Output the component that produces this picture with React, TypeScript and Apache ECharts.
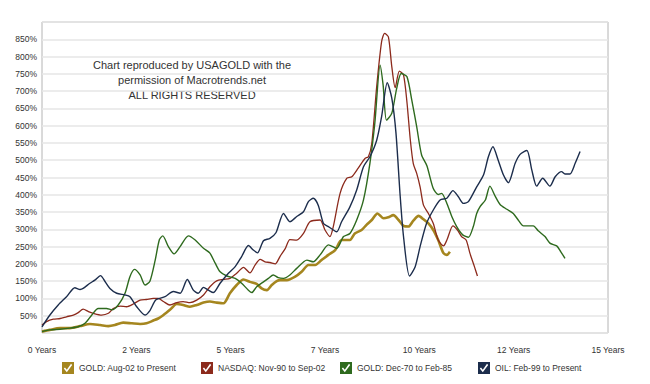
import React, { useEffect, useRef } from "react";
import * as echarts from "echarts";

// ---- Data (years since start, % gain) ----
const SERIES_NAMES = [
  "GOLD: Aug-02 to Present",
  "NASDAQ: Nov-90 to Sep-02",
  "GOLD: Dec-70 to Feb-85",
  "OIL: Feb-99 to Present",
];

const SERIES_COLORS = ["#a5861f", "#8c2a1c", "#2e6a1e", "#1c2d4c"];

const goldAug02: number[][] = [
  [0, 4], [0.21, 9], [0.48, 14], [0.74, 14], [1.01, 20], [1.27, 26], [1.54, 23], [1.76, 20],
  [1.93, 23], [2.15, 30], [2.38, 28], [2.6, 26], [2.77, 28], [2.95, 36], [3.08, 42], [3.22, 52],
  [3.39, 67], [3.57, 84], [3.74, 81], [3.92, 76], [4.1, 81], [4.28, 88], [4.45, 91], [4.63, 88],
  [4.81, 86], [4.98, 115], [5.16, 139], [5.34, 155], [5.51, 148], [5.69, 142], [5.82, 129],
  [5.96, 124], [6.09, 139], [6.22, 150], [6.31, 153], [6.49, 153], [6.71, 163], [6.88, 177],
  [7.06, 197], [7.24, 197], [7.41, 211], [7.59, 226], [7.77, 240], [7.94, 269], [8.16, 269],
  [8.29, 288], [8.47, 298], [8.6, 313], [8.74, 327], [8.89, 346], [9.05, 332], [9.18, 335],
  [9.31, 341], [9.45, 327], [9.58, 310], [9.71, 308], [9.84, 325], [9.98, 339], [10.11, 329],
  [10.24, 317], [10.37, 298], [10.5, 269], [10.64, 231], [10.73, 226], [10.81, 235],
];

const nasdaq9002: number[][] = [
  [0, 23], [0.12, 33], [0.3, 40], [0.48, 42], [0.65, 47], [0.83, 52], [0.96, 59], [1.09, 69],
  [1.23, 62], [1.36, 57], [1.58, 52], [1.76, 57], [1.89, 71], [2.07, 78], [2.24, 76], [2.42, 84],
  [2.6, 95], [2.77, 97], [2.95, 100], [3.08, 100], [3.22, 91], [3.39, 81], [3.57, 88], [3.74, 91],
  [3.92, 88], [4.1, 95], [4.28, 110], [4.45, 134], [4.63, 151], [4.81, 155], [4.98, 158],
  [5.16, 173], [5.34, 190], [5.51, 174], [5.65, 197], [5.78, 213], [5.91, 206], [6.04, 204],
  [6.18, 200], [6.31, 222], [6.45, 245], [6.57, 270], [6.75, 269], [6.93, 288], [7.1, 322],
  [7.37, 327], [7.5, 298], [7.63, 279], [7.72, 308], [7.9, 404], [8.08, 448], [8.21, 452],
  [8.38, 477], [8.56, 505], [8.65, 510], [8.74, 549], [8.87, 713], [9.0, 843], [9.08, 867],
  [9.18, 857], [9.27, 771], [9.36, 710], [9.47, 758], [9.58, 747], [9.67, 670], [9.76, 560],
  [9.84, 490], [9.93, 462], [10.02, 423], [10.11, 370], [10.24, 346], [10.37, 317], [10.5, 269],
  [10.64, 252], [10.73, 269], [10.89, 310], [11.01, 298], [11.12, 279], [11.24, 269],
  [11.34, 231], [11.46, 192], [11.54, 165],
];

const goldDec70: number[][] = [
  [0, 4], [0.21, 9], [0.48, 11], [0.74, 14], [0.96, 18], [1.14, 28], [1.32, 52], [1.49, 71],
  [1.71, 71], [1.85, 67], [2.02, 81], [2.2, 115], [2.33, 163], [2.45, 184], [2.6, 168],
  [2.73, 139], [2.86, 150], [3.0, 211], [3.11, 270], [3.2, 281], [3.35, 250], [3.5, 229],
  [3.66, 250], [3.88, 281], [4.06, 269], [4.28, 245], [4.45, 231], [4.59, 202], [4.72, 177],
  [4.9, 165], [5.12, 158], [5.29, 144], [5.47, 124], [5.56, 117], [5.69, 134], [5.87, 148],
  [6.0, 158], [6.13, 168], [6.26, 160], [6.4, 158], [6.57, 168], [6.75, 187], [7.02, 211],
  [7.19, 206], [7.37, 226], [7.59, 255], [7.81, 245], [7.99, 279], [8.16, 288], [8.34, 327],
  [8.52, 385], [8.69, 491], [8.82, 607], [8.96, 775], [9.04, 718], [9.13, 616], [9.27, 636],
  [9.4, 708], [9.52, 751], [9.67, 742], [9.8, 674], [9.93, 597], [10.06, 515], [10.2, 484],
  [10.37, 418], [10.5, 401], [10.59, 404], [10.73, 375], [10.86, 337], [10.99, 308],
  [11.15, 284], [11.3, 277], [11.43, 308], [11.52, 346], [11.61, 366], [11.75, 385],
  [11.87, 425], [12.01, 396], [12.14, 372], [12.32, 358], [12.49, 346], [12.62, 327],
  [12.76, 310], [13.02, 310], [13.15, 296], [13.33, 279], [13.46, 260], [13.64, 252],
  [13.75, 235], [13.86, 216],
];

const oilFeb99: number[][] = [
  [0, 18], [0.21, 52], [0.43, 81], [0.65, 105], [0.87, 131], [1.01, 126], [1.09, 129],
  [1.27, 144], [1.4, 153], [1.55, 166], [1.67, 149], [1.8, 129], [1.98, 115], [2.2, 110],
  [2.33, 105], [2.51, 76], [2.73, 52], [2.86, 65], [3.02, 96], [3.26, 105], [3.48, 120],
  [3.66, 115], [3.85, 155], [4.01, 124], [4.14, 115], [4.28, 132], [4.41, 124], [4.54, 117],
  [4.72, 144], [4.94, 173], [5.12, 192], [5.29, 221], [5.47, 253], [5.6, 240], [5.71, 232],
  [5.87, 267], [6.04, 274], [6.2, 290], [6.4, 346], [6.57, 322], [6.75, 337], [6.93, 351],
  [7.06, 380], [7.19, 390], [7.32, 370], [7.46, 317], [7.59, 308], [7.81, 293], [7.94, 322],
  [8.16, 365], [8.34, 414], [8.52, 481], [8.69, 510], [8.87, 558], [9.0, 626], [9.15, 724],
  [9.27, 680], [9.38, 580], [9.49, 400], [9.58, 280], [9.74, 165], [9.89, 192], [10.02, 250],
  [10.19, 317], [10.37, 356], [10.55, 385], [10.73, 390], [10.89, 412], [11.03, 395],
  [11.17, 375], [11.3, 380], [11.52, 423], [11.7, 457], [11.83, 510], [11.95, 539],
  [12.09, 500], [12.23, 457], [12.36, 435], [12.54, 491], [12.67, 517], [12.85, 528],
  [12.98, 472], [13.11, 425], [13.27, 448], [13.46, 425], [13.6, 452], [13.77, 467],
  [13.86, 460], [13.99, 460], [14.13, 491], [14.26, 525],
];

const SERIES_DATA = [goldAug02, nasdaq9002, goldDec70, oilFeb99];
const SERIES_WIDTHS = [2.6, 1.3, 1.4, 1.4];

const Y_MIN = 0;
const Y_MAX = 900;
const Y_STEP = 50;
const X_MIN = 0;
const X_MAX = 15;
const X_STEP = 2.5;

const NOTE_LINES = [
  "Chart reproduced by USAGOLD with the",
  "permission of Macrotrends.net",
  "ALL RIGHTS RESERVED",
];

const FONT = '"Liberation Sans", Arial, Helvetica, sans-serif';
const CHECKBOX_ICON =
  "path://M0,0H20V20H0Z M3,11 L8,17 L17,5 L15,3 L8,13 L5,9 Z";
const LEGEND_LEFTS = [62, 201, 340, 478];

export default function App() {
  const ref = useRef<HTMLDivElement>(null);

  useEffect(() => {
    if (!ref.current) return;
    const chart = echarts.init(ref.current, null, { renderer: "svg" });

    chart.setOption({
      animation: false,
      backgroundColor: "#ffffff",
      grid: {
        left: 42,
        right: 42,
        top: 22,
        bottom: 51,
        show: true,
        borderColor: "#b4b4b4",
        borderWidth: 1,
        backgroundColor: "transparent",
      },
      xAxis: {
        type: "value",
        min: X_MIN,
        max: X_MAX,
        interval: X_STEP,
        axisLine: { show: false },
        axisTick: { show: false },
        splitLine: { show: false },
        axisLabel: {
          formatter: (v: number) => Math.floor(v) + " Years",
          fontSize: 8.5,
          fontFamily: FONT,
          color: "#333",
          margin: 12,
        },
      },
      yAxis: {
        type: "value",
        min: Y_MIN,
        max: Y_MAX,
        interval: Y_STEP,
        axisLine: { show: false },
        axisTick: { show: false },
        splitLine: { lineStyle: { color: "#e6e6e6", width: 1.5 } },
        axisLabel: {
          formatter: (v: number) => (v === Y_MIN || v === Y_MAX ? "" : v + "%"),
          fontSize: 8.5,
          fontFamily: FONT,
          color: "#333",
          margin: 5,
        },
      },
      legend: SERIES_NAMES.map((name, i) => ({
        data: [{ name, icon: CHECKBOX_ICON }],
        left: LEGEND_LEFTS[i],
        top: 362,
        itemWidth: 12,
        itemHeight: 12,
        itemGap: 5,
        padding: 0,
        selectedMode: false,
        textStyle: { fontSize: 8.5, fontFamily: FONT, color: "#333", padding: [0, 0, 0, 0] },
        itemStyle: { borderWidth: 0 },
      })),
      graphic: [
        {
          type: "text",
          x: 192,
          y: 57,
          silent: true,
          style: {
            text: NOTE_LINES.join("\n"),
            fontSize: 11,
            fontFamily: FONT,
            fill: "#333",
            align: "center",
            verticalAlign: "top",
            lineHeight: 15,
          },
        },
      ],
      series: SERIES_NAMES.map((name, i) => ({
        type: "line",
        name,
        data: SERIES_DATA[i],
        showSymbol: false,
        smooth: 0.25,
        color: SERIES_COLORS[i],
        itemStyle: { color: SERIES_COLORS[i] },
        lineStyle: { color: SERIES_COLORS[i], width: SERIES_WIDTHS[i] },
        z: 2 + i,
      })),
    });

    return () => chart.dispose();
  }, []);

  return (
    <div
      ref={ref}
      style={{ position: "absolute", left: 0, top: 0, width: 650, height: 384, background: "#fff" }}
    />
  );
}
